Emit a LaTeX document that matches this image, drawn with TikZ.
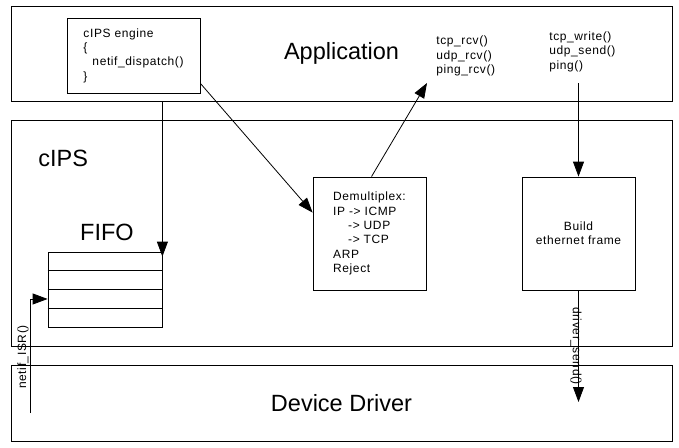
\documentclass[tikz,border=0pt]{standalone}
\usepackage{fontspec}
\setmainfont{Liberation Sans}
\newfontfamily\spacedfont[LetterSpace=5]{Liberation Sans}
\usetikzlibrary{calc}
\usetikzlibrary{positioning}
\usetikzlibrary{arrows.meta}
\tikzset{>={Triangle[length=15pt,width=11pt]}}
\tikzset{layer/.style = {shape=rectangle,draw,minimum width=661pt,font=\fontsize{23.5}{27}\selectfont}}
\tikzset{box/.style = {shape=rectangle,draw,align=left,font=\spacedfont\fontsize{12}{14.4}\selectfont}}
\tikzset{big/.style = {inner sep=0pt,font=\fontsize{23.5}{27}\selectfont}}
\tikzset{txt/.style = {inner sep=0pt,align=left,font=\spacedfont\fontsize{12}{14.4}\selectfont}}

\begin{document}
\begin{tikzpicture}[x=1pt,y=-1pt,line width=0.8pt]
                \useasboundingbox (0,0) rectangle (679,447);

                \node[layer,minimum height=95pt] (app) at (341.5,53.5) {Application};
                \node[layer,minimum height=226pt] (cips) at (341.5,233) {};
                \node[layer,minimum height=76pt] (drv) at (341.5,403) {Device Driver};
                \node[big,anchor=west] (cipslbl) at (38,158) {cIPS};

                \node[box,minimum width=133pt,minimum height=75pt] (engine) at (133.5,55.5) {cIPS engine\\\{\\\hspace{9pt}netif\_dispatch()\\\}};
                \node[box,minimum width=113pt,minimum height=113pt] (demux) at (369.5,233.5) {Demultiplex:\\IP -> ICMP\\\hspace{15pt}-> UDP\\\hspace{15pt}-> TCP\\ARP\\Reject};
                \node[box,align=center,minimum width=113pt,minimum height=113pt] (build) at (578.5,233.5) {Build\\ethernet frame};
                \node[draw,minimum width=114pt,minimum height=75pt] (fifo) at (105,289.5) {};
                \foreach \r in {1,2,3}
                    \draw ($(fifo.north west)!\r/4!(fifo.south west)$) -- ($(fifo.north east)!\r/4!(fifo.south east)$);
                \node[big,above=10pt of fifo,xshift=2pt] (fifolbl) {FIFO};

                \node[txt,anchor=west] (rcv) at (436,56) {tcp\_rcv()\\udp\_rcv()\\ping\_rcv()};
                \node[txt,anchor=west] (snd) at (549,51.5) {tcp\_write()\\udp\_send()\\ping()};

                \coordinate (rcvin) at (427,83);
                \coordinate (sndout) at (578.5,83);
                \coordinate (isrin) at (30,413);
                \coordinate (drvout) at (578.5,402);

                \draw[->] (fifo.north east |- app.south) -- ([yshift=-5pt]fifo.north east);
                \draw[->] ([yshift=10pt]engine.south east) -- ([yshift=-36pt]demux.north west);
                \draw[->] ([xshift=2pt]demux.north) -- (rcvin);
                \draw[->] (sndout) -- (build.north);
                \draw[->] (build.south) -- (drvout);
                \draw[->] (isrin) |- ($(fifo.north west)!0.625!(fifo.south west)$);

                \node[txt,rotate=90] (isr) at (23,357) {netif\_ISR()};
                \node[txt,rotate=-90] (drvsend) at (576,346) {driver\_send()};
            \end{tikzpicture}
\end{document}
